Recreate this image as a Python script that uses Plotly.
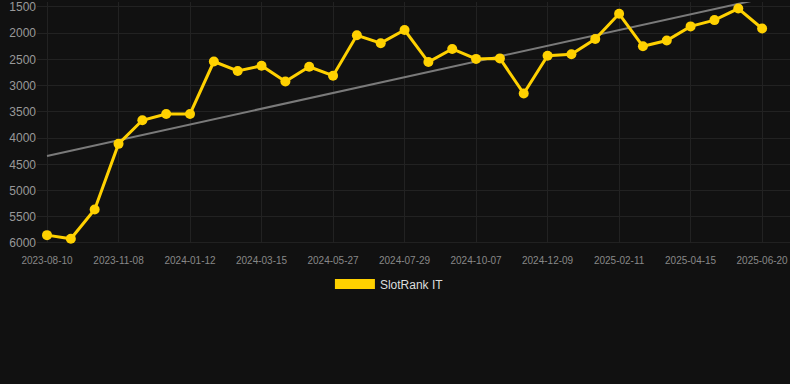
import plotly.graph_objects as go

tick_labels = ["2023-08-10", "2023-11-08", "2024-01-12", "2024-03-15", "2024-05-27",
               "2024-07-29", "2024-10-07", "2024-12-09", "2025-02-11", "2025-04-15", "2025-06-20"]
rank_values = [5850, 5920, 5360, 4110, 3660, 3540, 3540, 2540, 2720, 2620,
               2920, 2640, 2810, 2040, 2190, 1940, 2550, 2300, 2490, 2480,
               3150, 2430, 2400, 2110, 1630, 2250, 2140, 1870, 1750, 1530, 1910]
trend_values = [4340, 1340]
y_ticks = [1500, 2000, 2500, 3000, 3500, 4000, 4500, 5000, 5500, 6000]

x_idx = list(range(len(rank_values)))
tick_idx = x_idx[::3]

fig = go.Figure()
fig.add_trace(go.Scatter(
    x=[x_idx[0], x_idx[-1]], y=trend_values, mode="lines",
    line=dict(color="#7a7a7a", width=2), showlegend=False, hoverinfo="skip"))
fig.add_trace(go.Scatter(
    x=x_idx, y=rank_values, mode="lines+markers",
    line=dict(color="#FFD100", width=3),
    marker=dict(color="#FFD100", size=10),
    showlegend=False, cliponaxis=False))
fig.add_trace(go.Scatter(
    x=[None], y=[None], mode="lines", name="SlotRank IT",
    line=dict(color="#FFD100", width=12), showlegend=True))

fig.update_layout(
    width=790, height=384,
    paper_bgcolor="#111111", plot_bgcolor="#111111",
    margin=dict(l=37, r=0, t=0, b=141),
    font=dict(family="Liberation Sans, Arial, sans-serif", color="#999999"),
    showlegend=True,
    legend=dict(orientation="h", x=0.389, xanchor="left", y=-0.17, yanchor="middle",
                itemwidth=40,
                font=dict(size=12, color="#dddddd"), bgcolor="rgba(0,0,0,0)"),
    xaxis=dict(
        range=[-0.42, 31.17], tickmode="array", tickvals=tick_idx, ticktext=tick_labels,
        showgrid=True, gridcolor="#222222", gridwidth=1, zeroline=False,
        showline=False, tickfont=dict(size=10, color="#888888"),
        ticks="outside", ticklen=8, tickcolor="#111111", ticklabeloverflow="allow"),
    yaxis=dict(
        range=[6000, 1405], tickmode="array", tickvals=y_ticks,
        showgrid=True, gridcolor="#222222", gridwidth=1, zeroline=False,
        showline=False, tickfont=dict(size=12, color="#999999"), ticks="",
        ticklabeloverflow="allow"),
)
fig.add_shape(type="line", xref="paper", yref="y", x0=0, x1=1, y0=6000, y1=6000,
              line=dict(color="#333333", width=1), layer="below")

fig.write_html("out.html", config={"displayModeBar": False},
               post_script="document.body.style.margin='0';document.body.style.background='#111111';")
